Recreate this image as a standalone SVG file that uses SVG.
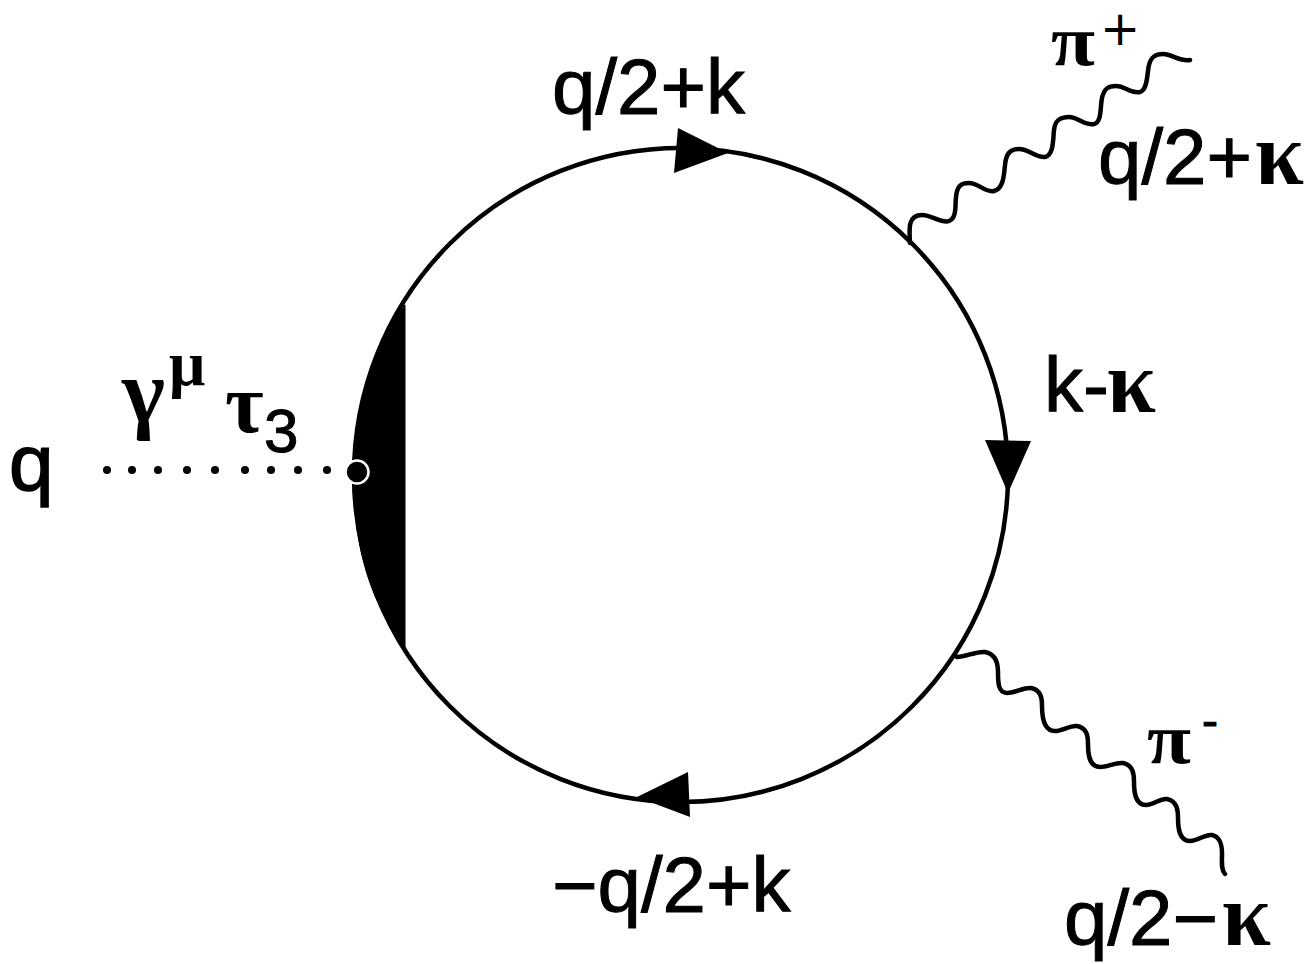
<svg xmlns="http://www.w3.org/2000/svg" width="1312" height="964" viewBox="0 0 1312 964">
<style>
.t{font-family:"Liberation Sans",Arial,sans-serif;font-size:78px;fill:#000;stroke:#000;stroke-width:1}
.g{font-family:"Liberation Serif","DejaVu Serif",serif;fill:#000;font-weight:bold;stroke:none}
.k{font-size:88px}
.p{font-family:"Liberation Serif","DejaVu Serif",serif;font-weight:bold;font-size:72px;fill:#000}
.s{fill:none;stroke:#000;stroke-width:4.5;stroke-linecap:round;stroke-linejoin:round}
</style>
<rect width="1312" height="964" fill="#fff"/>
<g id="connectors">
<circle id="loop" class="s" cx="681" cy="475" r="327"/>
<path id="pi-plus-line" class="s" d="M910 243C909 228 908 215 922 215C932 215 942 224 949 221C957 218 955 205 956 197C957 187 960 183 969 183C979 183 985 193 994 191C1004 189 1004 173 1005 165C1006 155 1009 149 1019 149C1029 149 1036 158 1045 157C1054 155 1053 138 1054 130C1055 121 1059 117 1069 117C1078 117 1085 126 1094 124C1102 122 1100 107 1102 98C1104 89 1108 86 1116 86C1125 86 1131 94 1140 92C1148 90 1147 72 1149 65C1151 57 1155 54 1163 54C1172 54 1180 62 1190 60"/>
<path id="pi-minus-line" class="s" d="M957 657C966 657 976 651 985 652C996 654 998 663 998 672C998 682 998 693 1007 693C1016 693 1024 687 1031 688C1041 690 1042 698 1042 706C1042 716 1043 731 1055 731C1063 731 1070 725 1077 726C1087 728 1088 736 1088 744C1088 754 1089 767 1100 767C1108 767 1116 762 1123 763C1133 765 1134 774 1134 782C1134 792 1135 805 1146 805C1154 805 1160 798 1167 799C1177 801 1178 810 1178 818C1178 828 1179 841 1190 841C1198 841 1205 834 1212 835C1221 837 1222 846 1222 854C1222 862 1221 870 1225 874"/>
<g id="dotted-line" fill="#000">
<circle cx="107" cy="470" r="4"/><circle cx="132" cy="470" r="4"/><circle cx="158" cy="470" r="4"/><circle cx="187" cy="470" r="4"/><circle cx="215" cy="470" r="4"/><circle cx="245" cy="470" r="4"/><circle cx="271" cy="470" r="4"/><circle cx="298" cy="470" r="4"/><circle cx="327" cy="470" r="4"/>
</g>
<polygon id="arrow-top" points="678,128 728,153 674,173"/>
<polygon id="arrow-right" points="985,440 1031,441 1008,493"/>
<polygon id="arrow-bottom" points="688,772 637,797 690,817"/>
</g>
<g id="vertex">
<path d="M405 305C385 330 370 365 361 405C355 435 354 460 354 480C354 530 362 590 405 649Z" fill="#000" stroke="#000" stroke-width="1"/>
<circle cx="357" cy="472" r="11.5" fill="#000" stroke="#fff" stroke-width="2.5"/>
</g>
<g id="labels">
<text class="t" x="552" y="114">q/2+k</text>
<text class="t" x="1098" y="184">q/2+<tspan class="g k" x="1255">κ</tspan></text>
<text class="t" x="1044" y="412">k-<tspan class="g k" x="1107">κ</tspan></text>
<text class="t" x="552" y="912">−q/2+k</text>
<text class="t" x="1064" y="945">q/2−<tspan class="g k" x="1222">κ</tspan></text>
<text class="t" x="9" y="490" style="font-size:80px;stroke-width:1.5">q</text>
<text class="p" x="1051" y="65" textLength="44" lengthAdjust="spacingAndGlyphs">π</text>
<text x="1100" y="44.5" font-family="DejaVu Sans, sans-serif" font-size="48" fill="#000">+</text>
<text class="p" x="1147" y="763" textLength="44" lengthAdjust="spacingAndGlyphs">π</text>
<text class="t" x="1202" y="737" style="font-size:48px">-</text>
<text class="g" x="122" y="422" style="font-size:92px">γ</text>
<text class="g" x="169" y="385" style="font-size:64px">μ</text>
<text class="g" x="225" y="432" style="font-size:84px">τ</text>
<text class="t" x="264" y="452" style="font-size:62px">3</text>
</g>
</svg>
